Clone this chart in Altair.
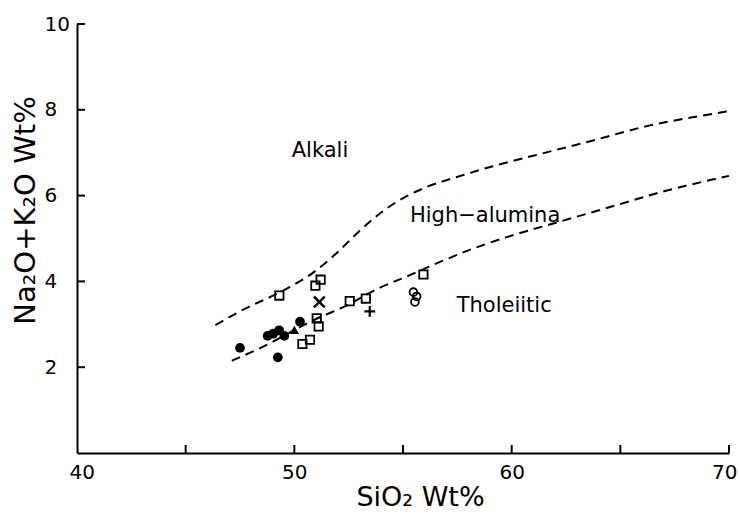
import altair as alt
import pandas as pd

W, H = 652, 429
FONT = "DejaVu Sans"

# ---- data ----
filled_x = [47.50, 48.77, 49.03, 49.30, 49.54, 49.24, 50.26]
filled_y = [2.45, 2.73, 2.78, 2.86, 2.73, 2.23, 3.06]

tri_x = [50.00]
tri_y = [2.87]

sq_x = [49.31, 50.97, 51.21, 51.03, 51.12, 50.37, 50.72, 52.55, 53.29, 55.94]
sq_y = [3.67, 3.90, 4.04, 3.14, 2.95, 2.54, 2.64, 3.54, 3.60, 4.16]

xmark_x = [51.15]
xmark_y = [3.52]

plus_x = [53.47]
plus_y = [3.30]

ocirc_x = [55.48, 55.63, 55.55]
ocirc_y = [3.75, 3.65, 3.52]

upper_x = [46.37, 47.60, 49.46, 50.88, 51.99, 52.78, 53.73, 54.83, 55.94,
           57.52, 59.10, 61.47, 63.85, 66.22, 68.59, 70.00]
upper_y = [2.98, 3.33, 3.78, 4.21, 4.68, 5.07, 5.50, 5.89, 6.17,
           6.44, 6.68, 6.99, 7.30, 7.62, 7.85, 7.97]

lower_x = [47.12, 48.19, 51.20, 52.30, 53.88, 55.15, 56.73, 58.31, 59.89,
           62.26, 64.64, 67.01, 70.00]
lower_y = [2.15, 2.39, 3.17, 3.41, 3.84, 4.11, 4.46, 4.78, 5.05,
           5.40, 5.75, 6.10, 6.46]

region_labels = ["Alkali", "High\u2212alumina", "Tholeiitic"]
label_x = [49.88, 55.32, 57.47]
label_y = [7.04, 5.52, 3.42]

x_tick_values = [45, 50, 55, 60, 65, 70]
y_tick_values = [2, 4, 6, 8, 10]
x_label_values = [40, 50, 60, 70]
y_label_values = [2, 4, 6, 8, 10]

# ---- scales / axes ----
xs = alt.Scale(domain=[40, 70], nice=False, zero=False)
ys = alt.Scale(domain=[0, 10], nice=False, zero=False)

xaxis = alt.Axis(values=x_label_values, ticks=False, grid=False,
                 domainWidth=2, domainColor="black",
                 labelFlush=True, labelFlushOffset=8,
                 labelFont=FONT, labelFontSize=20, labelColor="black",
                 labelPadding=9,
                 title="SiO\u2082 Wt%", titleFont=FONT, titleFontSize=27,
                 titleFontWeight="normal", titleColor="black",
                 titleX=343, titleY=44, titleAlign="center",
                 titleBaseline="middle")
yaxis = alt.Axis(values=y_label_values, ticks=False, grid=False,
                 domainWidth=2, domainColor="black", labelFlush=False,
                 labelFont=FONT, labelFontSize=20, labelColor="black",
                 labelAlign="left", labelBaseline="middle", labelPadding=33,
                 title="Na\u2082O+K\u2082O Wt%", titleFont=FONT,
                 titleFontSize=29, titleFontWeight="normal",
                 titleColor="black", titleAngle=270, titleX=-52, titleY=186,
                 titleAlign="center", titleBaseline="middle")

X = alt.X("x:Q", scale=xs, axis=xaxis)
Y = alt.Y("y:Q", scale=ys, axis=yaxis)


def df(xv, yv):
    return pd.DataFrame({"x": xv, "y": yv})


curves = pd.concat([
    df(upper_x, upper_y).assign(curve="upper"),
    df(lower_x, lower_y).assign(curve="lower"),
])

lines = alt.Chart(curves).mark_line(
    color="black", strokeWidth=2, strokeDash=[9, 6], interpolate="monotone"
).encode(x=X, y=Y, detail="curve:N")

xticks = alt.Chart(pd.DataFrame({"x": x_tick_values})).mark_rule(
    color="black", strokeWidth=2
).encode(x=X, y=alt.value(H), y2=alt.value(H - 8))

yticks = alt.Chart(pd.DataFrame({"y": y_tick_values})).mark_rule(
    color="black", strokeWidth=2
).encode(y=Y, x=alt.value(0), x2=alt.value(8))

filled = alt.Chart(df(filled_x, filled_y)).mark_point(
    shape="circle", filled=True, color="black", size=95, opacity=1
).encode(x=X, y=Y)

tri = alt.Chart(df(tri_x, tri_y)).mark_point(
    shape="triangle-up", filled=True, color="black", size=90, opacity=1
).encode(x=X, y=Y)

squares = alt.Chart(df(sq_x, sq_y)).mark_point(
    shape="square", filled=False, color="black", size=70, strokeWidth=1.8,
    opacity=1
).encode(x=X, y=Y)

ocircles = alt.Chart(df(ocirc_x, ocirc_y)).mark_point(
    shape="circle", filled=False, color="black", size=60, strokeWidth=1.8,
    opacity=1
).encode(x=X, y=Y)

xmark = alt.Chart(df(xmark_x, xmark_y)).mark_point(
    shape="M-1,-1L1,1M-1,1L1,-1", filled=False, color="black", size=115,
    strokeWidth=2.6, opacity=1
).encode(x=X, y=Y)

plus = alt.Chart(df(plus_x, plus_y)).mark_point(
    shape="M-1,0L1,0M0,-1L0,1", filled=False, color="black", size=115,
    strokeWidth=2.2, opacity=1
).encode(x=X, y=Y)

labels = alt.Chart(pd.DataFrame({"x": label_x, "y": label_y,
                                 "t": region_labels})).mark_text(
    align="left", baseline="middle", font=FONT, fontSize=21, color="black"
).encode(x=X, y=Y, text="t:N")

chart = alt.layer(
    lines, xticks, yticks, squares, ocircles, filled, tri, xmark, plus, labels
).properties(
    width=W, height=H,
    padding={"left": 77, "top": 24, "right": 11, "bottom": 62},
    autosize=alt.AutoSizeParams(type="none"),
    background="white",
).configure_view(stroke=None)

chart.save("out.html", embed_options={"renderer": "svg", "actions": False})
